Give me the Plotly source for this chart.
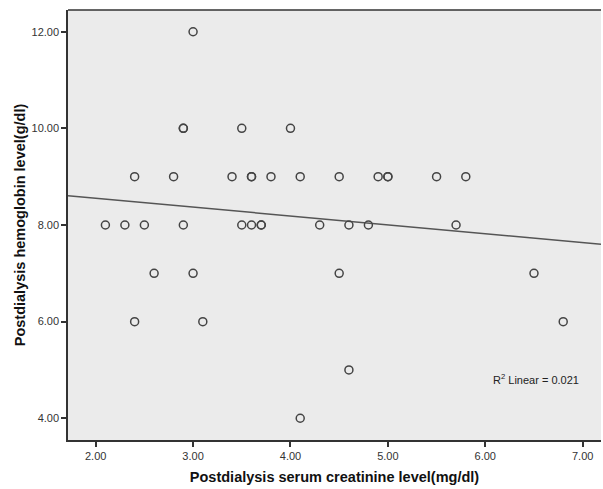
import numpy as np
import plotly.graph_objects as go

# Data
creatinine = [3.0,
              2.9, 2.9, 3.5, 4.0,
              2.4, 2.8, 3.4, 3.6, 3.6, 3.8, 4.1, 4.5, 4.9, 5.0, 5.0, 5.5, 5.8,
              2.1, 2.3, 2.5, 2.9, 3.5, 3.6, 3.7, 3.7, 4.3, 4.6, 4.8, 5.7,
              2.6, 3.0, 4.5, 6.5,
              2.4, 3.1, 6.8,
              4.6,
              4.1]
hemoglobin = [12,
              10, 10, 10, 10,
              9, 9, 9, 9, 9, 9, 9, 9, 9, 9, 9, 9, 9,
              8, 8, 8, 8, 8, 8, 8, 8, 8, 8, 8, 8,
              7, 7, 7, 7,
              6, 6, 6,
              5,
              4]
x_ticks = [2, 3, 4, 5, 6, 7]
y_ticks = [4, 6, 8, 10, 12]
r2_text = "R<sup>2</sup> Linear = 0.021"

x_range = [1.716, 7.188]
y_range = [3.55, 12.45]

slope, intercept = np.polyfit(creatinine, hemoglobin, 1)
fit_x = np.array(x_range)
fit_y = slope * fit_x + intercept

fig = go.Figure()
fig.add_trace(go.Scatter(
    x=fit_x, y=fit_y, mode="lines",
    line=dict(color="#555555", width=1.5), hoverinfo="skip", showlegend=False))
fig.add_trace(go.Scatter(
    x=creatinine, y=hemoglobin, mode="markers",
    marker=dict(symbol="circle-open", size=8, color="#444444", line=dict(width=1.5, color="#444444")),
    showlegend=False))

fig.add_annotation(x=0.9625, y=0.142, xref="paper", yref="paper", text=r2_text,
                   showarrow=False, xanchor="right", yanchor="middle",
                   font=dict(family="Liberation Sans, Arial", size=11, color="#222222"))

axis_font = dict(family="Liberation Sans, Arial", size=11, color="#333333")
title_font = dict(family="Liberation Sans, Arial", size=14.5, color="#111111")

fig.update_layout(
    width=603, height=489,
    margin=dict(l=68, r=2, t=10, b=49),
    paper_bgcolor="white", plot_bgcolor="#ebebeb",
    xaxis=dict(range=x_range, tickvals=x_ticks, tickformat=".2f",
               ticks="outside", ticklen=5, tickcolor="#333333", tickwidth=1.5,
               showgrid=False, zeroline=False,
               showline=True, linecolor="#333333", linewidth=1.5,
               tickfont=axis_font,
               title=dict(text="<b>Postdialysis serum creatinine level(mg/dl)</b>", font=title_font, standoff=11)),
    yaxis=dict(range=y_range, tickvals=y_ticks, tickformat=".2f",
               ticks="outside", ticklen=5, tickcolor="#333333", tickwidth=1.5,
               showgrid=False, zeroline=False,
               showline=True, linecolor="#333333", linewidth=1.5,
               tickfont=axis_font,
               title=dict(text="<b>Postdialysis hemoglobin level(g/dl)</b>", font=title_font, standoff=2)),
    shapes=[dict(type="line", xref="paper", yref="paper", x0=0, x1=1, y0=1, y1=1,
                 line=dict(color="#333333", width=1.5))],
)

fig.write_html("out.html", config={"displayModeBar": False},
               post_script="document.body.style.margin='0';document.body.style.overflow='hidden';")
